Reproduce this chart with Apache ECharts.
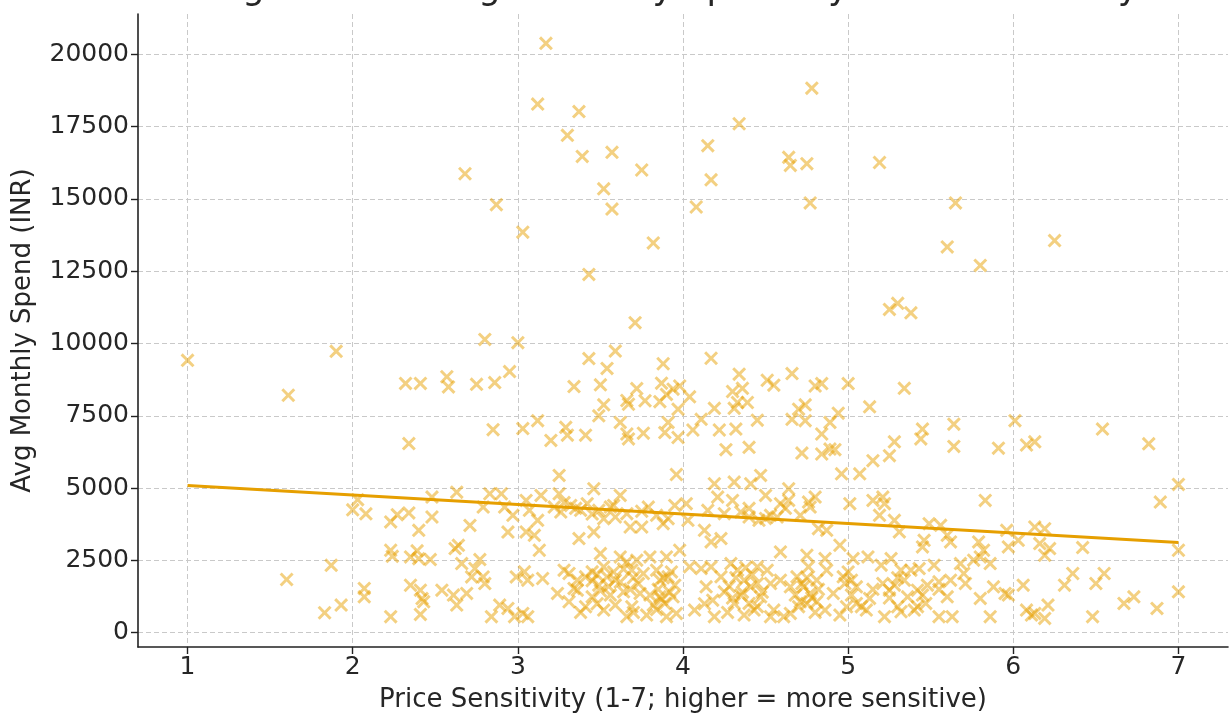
<!DOCTYPE html>
<html>
<head>
<meta charset="utf-8">
<script src="https://cdn.jsdelivr.net/npm/echarts@6/dist/echarts.min.js"></script>
<style>
html,body{margin:0;padding:0;background:#fff;}
#chart{width:1230px;height:715px;}
</style>
</head>
<body>
<div id="chart"></div>
<script>
// ---- data ----
const titleText = 'Figure 3: Average Monthly Spend by Price Sensitivity';
const xAxisTitle = 'Price Sensitivity (1-7; higher = more sensitive)';
const yAxisTitle = 'Avg Monthly Spend (INR)';
const xTicks = [1, 2, 3, 4, 5, 6, 7];
const yTicks = [0, 2500, 5000, 7500, 10000, 12500, 15000, 17500, 20000];

// respondents: price sensitivity score
const priceSensitivity = [
3.17,3.12,3.37,3.30,3.39,3.57,3.75,2.68,3.52,3.57,2.87,3.03,3.82,3.43,3.71,2.80,3.00,1.00,1.90,1.61,
3.43,3.59,3.88,2.95,3.54,2.32,2.41,2.57,2.58,2.75,2.86,3.34,3.50,3.72,3.87,3.94,3.98,3.66,3.67,3.77,
3.86,3.90,3.52,3.62,3.49,3.91,3.97,3.12,3.03,2.85,3.20,3.29,3.30,3.41,3.66,3.67,3.76,3.89,3.97,2.34,
4.78,4.34,4.15,4.64,4.65,4.75,5.19,4.17,4.08,4.77,5.65,5.60,6.25,5.80,5.25,5.30,5.38,4.17,4.34,4.66,
4.51,4.55,4.80,4.84,5.00,5.34,4.30,4.36,4.04,4.33,4.39,4.19,4.31,4.70,4.74,4.94,5.13,4.11,4.45,4.66,
4.74,4.89,4.06,4.22,4.32,4.40,4.26,4.84,4.89,4.72,4.84,4.92,5.28,5.25,5.15,5.45,5.44,5.64,5.64,6.01,
5.91,6.08,6.13,6.54,6.82,
1.60,1.83,1.87,1.93,2.03,2.00,2.08,2.23,2.27,2.34,2.48,2.63,2.48,2.40,2.71,2.64,2.62,2.79,2.83,2.90,
2.92,2.94,2.97,2.23,2.24,2.35,2.39,2.40,2.47,2.77,2.66,2.74,2.72,2.79,2.80,2.99,2.07,2.07,2.35,2.41,
2.42,2.43,2.54,2.61,2.63,2.69,2.23,2.41,2.84,2.89,2.94,2.98,
3.25,3.96,3.14,3.25,3.46,3.62,3.05,3.07,3.12,3.05,3.10,3.13,3.22,3.26,3.32,3.38,3.42,3.49,3.56,3.59,
3.66,3.68,3.75,3.79,3.84,3.88,3.91,3.95,4.02,4.03,3.37,3.46,3.52,3.04,3.06,3.15,3.28,3.31,3.34,3.36,
3.41,3.45,3.50,3.52,3.54,3.59,3.62,3.66,3.69,3.72,3.76,3.80,3.84,3.86,3.90,3.91,3.95,3.98,4.04,3.24,
3.31,3.36,3.41,3.45,3.49,3.52,3.56,3.59,3.64,3.66,3.69,3.74,3.78,3.82,3.86,3.90,3.89,3.94,3.96,3.06,
3.03,4.07,
4.19,4.31,4.41,4.47,4.64,4.96,5.07,4.21,4.30,4.50,4.59,4.64,4.76,4.80,4.15,4.25,4.35,4.40,4.46,4.53,
4.57,4.71,4.77,4.82,4.87,4.95,5.01,5.15,4.17,4.23,4.13,4.59,4.75,4.86,5.03,5.12,4.11,4.17,4.23,4.29,
4.33,4.37,4.41,4.45,4.51,4.53,4.59,4.65,4.69,4.73,4.76,4.77,4.81,4.87,4.91,4.97,5.02,5.05,4.14,4.18,
4.25,4.31,4.35,4.40,4.43,4.47,4.55,4.61,4.65,4.71,4.75,4.81,4.86,4.95,4.99,5.05,5.11,5.13,4.19,4.37,
4.53,
5.83,5.21,5.22,5.19,5.28,5.31,5.49,5.56,5.46,5.45,5.60,5.62,5.79,5.82,5.96,5.97,6.03,6.13,6.19,6.16,
6.22,6.19,5.26,5.20,5.32,5.38,5.43,5.52,5.68,5.70,5.76,5.80,5.86,5.21,5.25,5.28,5.34,5.36,5.42,5.45,
5.48,5.55,5.60,5.62,5.71,5.80,5.88,5.95,5.97,6.06,5.22,5.30,5.32,5.40,5.47,5.55,5.63,5.86,6.08,6.11,
6.13,6.19,6.21,
7.00,6.89,6.42,7.00,6.36,6.31,6.50,6.55,6.48,6.67,6.73,6.87,7.00,
3.45,3.48,3.55,3.58,3.62,3.68,3.70,3.73,3.64,3.50,3.85,3.88,3.92,3.87,3.93,3.80,
4.28,4.32,4.36,4.42,4.45,4.38,4.48,4.30,4.68,4.72,4.78,4.82,4.75,4.70,4.80,
4.98,5.02,5.08,5.00,3.35,3.45,3.58,3.28,3.75,4.40,4.50,4.62,
3.38,3.48,3.70,3.84,4.13,4.27,4.45,5.25,5.30,5.55,5.15,5.42
];

// respondents: average monthly spend (INR), same order as priceSensitivity
const avgMonthlySpend = [
20380,18280,18020,17200,16470,16610,16000,15870,15350,14650,14800,13850,13480,12390,10720,10140,10030,9420,9730,8210,
9480,9740,9300,9030,9140,8620,8620,8850,8500,8590,8650,8510,8570,8440,8630,8420,8530,8030,7900,8020,
7990,8240,7880,7270,7500,7270,7730,7330,7060,7020,6650,7100,6830,6830,6870,6700,6900,6920,6750,6540,
18830,17600,16840,16440,16160,16220,16260,15660,14720,14860,14860,13340,13560,12700,11180,11390,11060,9490,8940,8960,
8730,8560,8530,8615,8615,8450,8340,8450,8155,7960,7960,7760,7760,7730,7880,7590,7810,7380,7350,7380,
7330,7270,7010,7010,7040,6410,6330,6870,6350,6210,6180,6330,6600,6120,5950,7040,6700,7210,6440,7330,
6380,6490,6600,7040,6530,
1840,690,2330,954,4600,4250,4110,3830,4080,4140,4690,4860,4000,3540,3710,3020,2910,4345,4805,4805,
4345,3480,4060,2850,2640,2620,2830,2560,2530,2530,2390,2220,1930,1930,1700,1930,1530,1240,1640,1470,
1180,1070,1470,1300,954,1356,552,632,552,954,839,552,
5440,5470,4747,4805,4977,4747,4575,4230,3885,3483,3368,2850,4345,4172,4402,4230,4460,4230,4345,4000,
4115,3655,3655,4345,4057,3770,3942,4402,4460,3885,3253,3483,3942,2103,1816,1874,2160,2046,1529,1816,
1931,2103,2735,2276,1931,1816,2620,2448,2160,2506,2046,2620,2160,1816,2620,1931,1644,2850,2276,1356,
1069,1471,897,1241,1644,782,1299,954,1414,552,897,1356,609,954,1241,552,1012,1241,667,552,
667,782,
5150,5207,5150,5437,4977,5494,5494,4690,4575,4747,4460,4575,4517,4690,4230,4115,4172,4000,3885,4057,
4000,4057,4345,3598,3540,3023,4460,4575,3138,3253,3540,2793,2678,2563,2563,2620,2218,2276,1931,2391,
2160,1816,1586,2276,2160,1701,1816,1586,1931,1586,2276,1356,1816,2160,1356,1931,1816,1586,1586,1126,
1414,1012,1299,1012,782,1241,782,552,667,1069,1012,1069,782,609,897,1012,782,1184,552,609,
552,
4575,4690,4460,4057,3885,3483,3770,3713,3195,2965,3368,3138,3138,2850,3540,2965,3195,3655,3598,3080,
2908,2678,2563,2333,2160,2160,2218,2333,2391,2046,2506,2620,2391,1701,1471,1644,1816,1241,1471,1299,
1644,1759,1241,1816,1701,1184,1586,1356,1299,1644,552,897,724,782,1012,552,552,552,782,609,
667,494,954,
5126,4517,2942,2850,2046,1644,1701,2046,552,1012,1241,839,1414,
1800,2000,1600,2100,1750,1500,1900,1700,2200,1450,1500,1900,1400,1150,2100,1300,
1600,1900,1400,2000,1700,2250,1400,1200,1300,1700,1200,1500,1900,900,700,
1700,1300,900,2100,4300,4100,4400,4500,4200,4300,3950,4300,
700,1000,700,800,1000,700,900,1200,1900,1500,1500,900
];

// fitted linear trend (end points)
const trendX = [1, 7];
const trendY = [5090, 3115];

// ---- chart ----
const points = priceSensitivity.map((x, i) => [x, avgMonthlySpend[i]]);
const trendLine = trendX.map((x, i) => [x, trendY[i]]);

const FONT = "'DejaVu Sans', sans-serif";
const TEXT = '#262626';
const xSymbol = 'path://M0,15L15,0L50,35L85,0L100,15L65,50L100,85L85,100L50,65L15,100L0,85L35,50Z';

const chart = echarts.init(document.getElementById('chart'), null, {renderer: 'canvas'});
chart.setOption({
  animation: false,
  backgroundColor: '#ffffff',
  title: {
    text: titleText,
    left: 215,
    top: -28,
    padding: 0,
    textStyle: {fontFamily: FONT, fontSize: 35, fontWeight: 'normal', color: TEXT}
  },
  grid: {left: 138, right: 2, top: 14, bottom: 68, containLabel: false, outerBoundsMode: 'none'},
  xAxis: {
    type: 'value',
    min: 0.7,
    max: 7.3,
    name: xAxisTitle,
    nameLocation: 'middle',
    nameGap: 40,
    nameTextStyle: {fontFamily: FONT, fontSize: 26, color: TEXT},
    axisLine: {show: true, onZero: false, lineStyle: {color: '#222', width: 1.6}},
    axisTick: {show: true, length: 7, customValues: xTicks, lineStyle: {color: '#222', width: 1.4}},
    axisLabel: {customValues: xTicks, fontFamily: FONT, fontSize: 25, color: TEXT, margin: 8,
      formatter: v => String(v)},
    splitLine: {show: true, lineStyle: {color: '#c9c9c9', type: [5, 3], width: 1}}
  },
  yAxis: {
    type: 'value',
    min: -495,
    max: 21395,
    name: yAxisTitle,
    nameLocation: 'middle',
    nameRotate: 90,
    nameGap: 102,
    nameTextStyle: {fontFamily: FONT, fontSize: 26, color: TEXT},
    axisLine: {show: true, onZero: false, lineStyle: {color: '#222', width: 1.6}},
    axisTick: {show: true, length: 7, customValues: yTicks, lineStyle: {color: '#222', width: 1.4}},
    axisLabel: {customValues: yTicks, fontFamily: FONT, fontSize: 25, color: TEXT, margin: 9,
      formatter: v => String(v)},
    splitLine: {show: true, lineStyle: {color: '#c9c9c9', type: [5, 3], width: 1}}
  },
  series: [
    {
      type: 'scatter',
      data: points,
      symbol: xSymbol,
      symbolSize: 14,
      itemStyle: {color: 'rgba(230,159,0,0.62)'},
      z: 2
    },
    {
      type: 'line',
      data: trendLine,
      showSymbol: false,
      symbol: 'none',
      lineStyle: {color: '#E69F00', width: 3},
      z: 3
    }
  ]
});
</script>
</body>
</html>
